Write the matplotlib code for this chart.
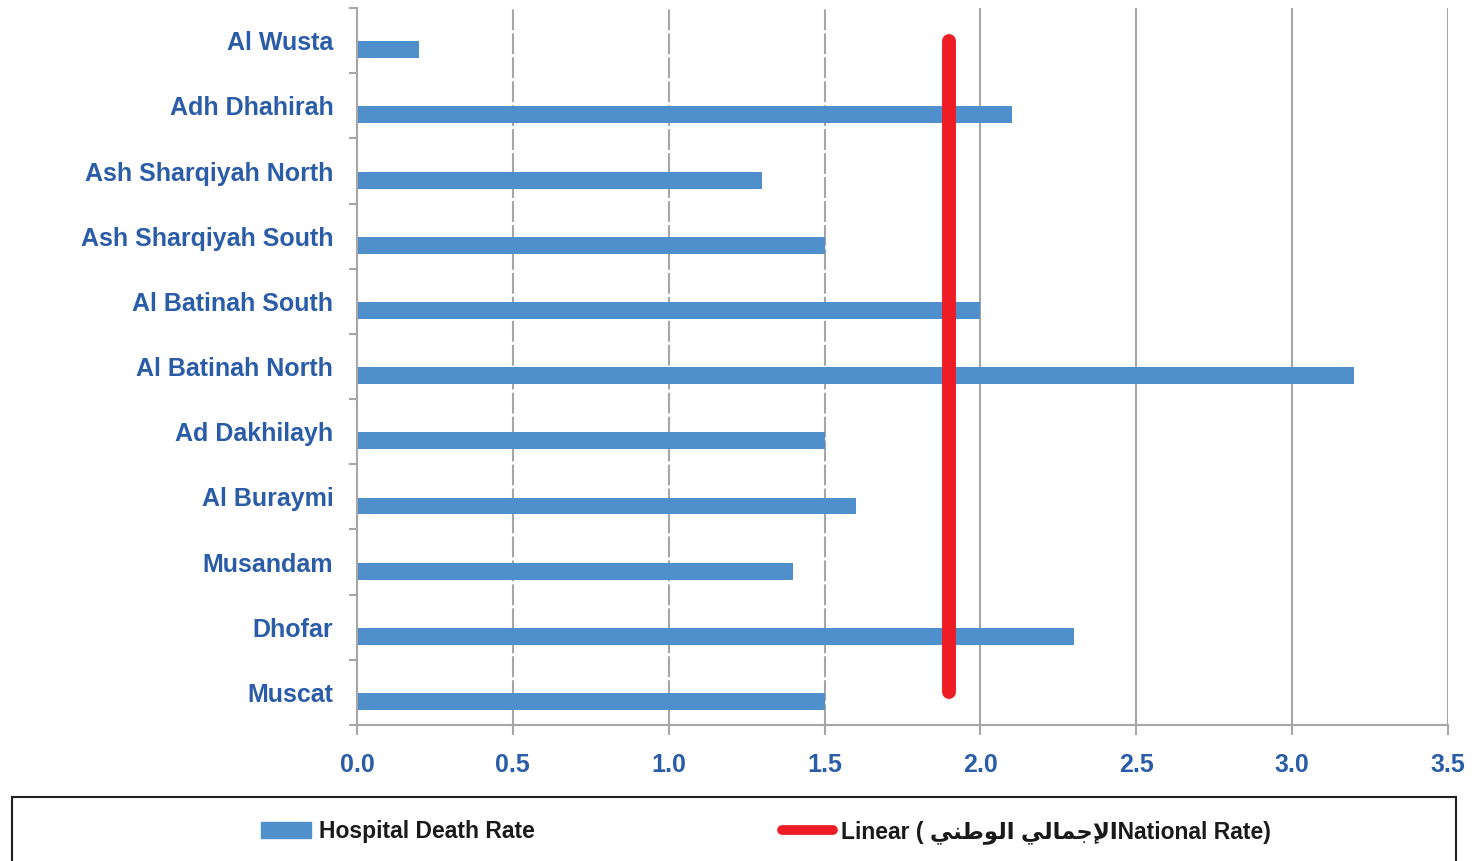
import matplotlib.pyplot as plt
from matplotlib.patches import Patch, Rectangle
from matplotlib.lines import Line2D

# data
regions = ['Al Wusta', 'Adh Dhahirah', 'Ash Sharqiyah North', 'Ash Sharqiyah South',
           'Al Batinah South', 'Al Batinah North', 'Ad Dakhilayh', 'Al Buraymi',
           'Musandam', 'Dhofar', 'Muscat']
death_rate = [0.2, 2.1, 1.3, 1.5, 2.0, 3.2, 1.5, 1.6, 1.4, 2.3, 1.5]
national_rate = 1.9
xticks = [0.0, 0.5, 1.0, 1.5, 2.0, 2.5, 3.0, 3.5]

# arabic "الإجمالي الوطني" pre-shaped in visual order (matplotlib has no bidi/shaping)
ar_text = '\uFEF2\uFEE8\uFEC3\uFEEE\uFEDF\uFE8D \uFEF2\uFEDF\uFE8E\uFEE4\uFE9F\uFEF9\uFE8D'

blue_txt = '#2a5ca8'
bar_col = '#4f8fcb'
grey = '#a6a6a6'

fig = plt.figure(figsize=(14.81, 8.61), dpi=100)
ax = fig.add_axes([0.241, 0.158, 0.7367, 0.8326])

y = list(range(len(regions)))
ax.barh([v + 0.14 for v in y], death_rate, height=0.26, color=bar_col, zorder=2)
ax.plot([national_rate, national_rate], [y[0], y[-1]], color='#ee1c25', lw=10,
        solid_capstyle='round', zorder=3)

ax.set_xlim(0, 3.5)
ax.set_ylim(len(regions) - 0.5, -0.5)

# gridlines: the left ones are dashed in the original
for xt in xticks[1:]:
    ls = (0, (10, 1.5)) if xt < 2.0 else '-'
    ax.axvline(xt, color=grey, lw=1.5, ls=ls, zorder=1)

ax.set_xticks(xticks)
ax.set_xticklabels([f'{t:.1f}' for t in xticks])
ax.set_yticks(y)
ax.set_yticklabels(regions)
ax.set_yticks([v - 0.5 for v in range(len(regions) + 1)], minor=True)

ax.tick_params(axis='x', length=7, width=1.5, color=grey, pad=13,
               labelsize=18, labelcolor=blue_txt)
ax.tick_params(axis='y', which='major', length=0, pad=17,
               labelsize=18, labelcolor=blue_txt)
ax.tick_params(axis='y', which='minor', length=6, width=1.5, color=grey)
for lab in ax.get_xticklabels() + ax.get_yticklabels():
    lab.set_fontweight('bold')
    lab.set_fontfamily('Liberation Sans')

for s in ['top', 'right']:
    ax.spines[s].set_visible(False)
for s in ['left', 'bottom']:
    ax.spines[s].set_color(grey)
    ax.spines[s].set_linewidth(1.5)

# legend box at the bottom
fig.patches.append(Rectangle((12 / 1481, -0.01), 1444 / 1481, 64 / 861 + 0.01,
                             transform=fig.transFigure, fill=False,
                             edgecolor='#222222', lw=1.5))
handles = [Patch(color=bar_col), Line2D([], [], color='#ee1c25', lw=7, solid_capstyle='round')]
labels = ['Hospital Death Rate', 'Linear ( ' + ar_text + 'National Rate)']
leg = fig.legend(handles, labels, ncol=2, loc='center left',
                 bbox_to_anchor=(240 / 1481, 29 / 861), frameon=False,
                 handlelength=2.2, handleheight=0.75, handletextpad=0.35,
                 columnspacing=10.8,
                 prop={'family': ['Liberation Sans', 'DejaVu Sans Condensed', 'DejaVu Sans'],
                       'weight': 'bold', 'size': 16.5})
for t in leg.get_texts():
    t.set_color('#1a1a1a')

fig.savefig('out.png', dpi=100)
